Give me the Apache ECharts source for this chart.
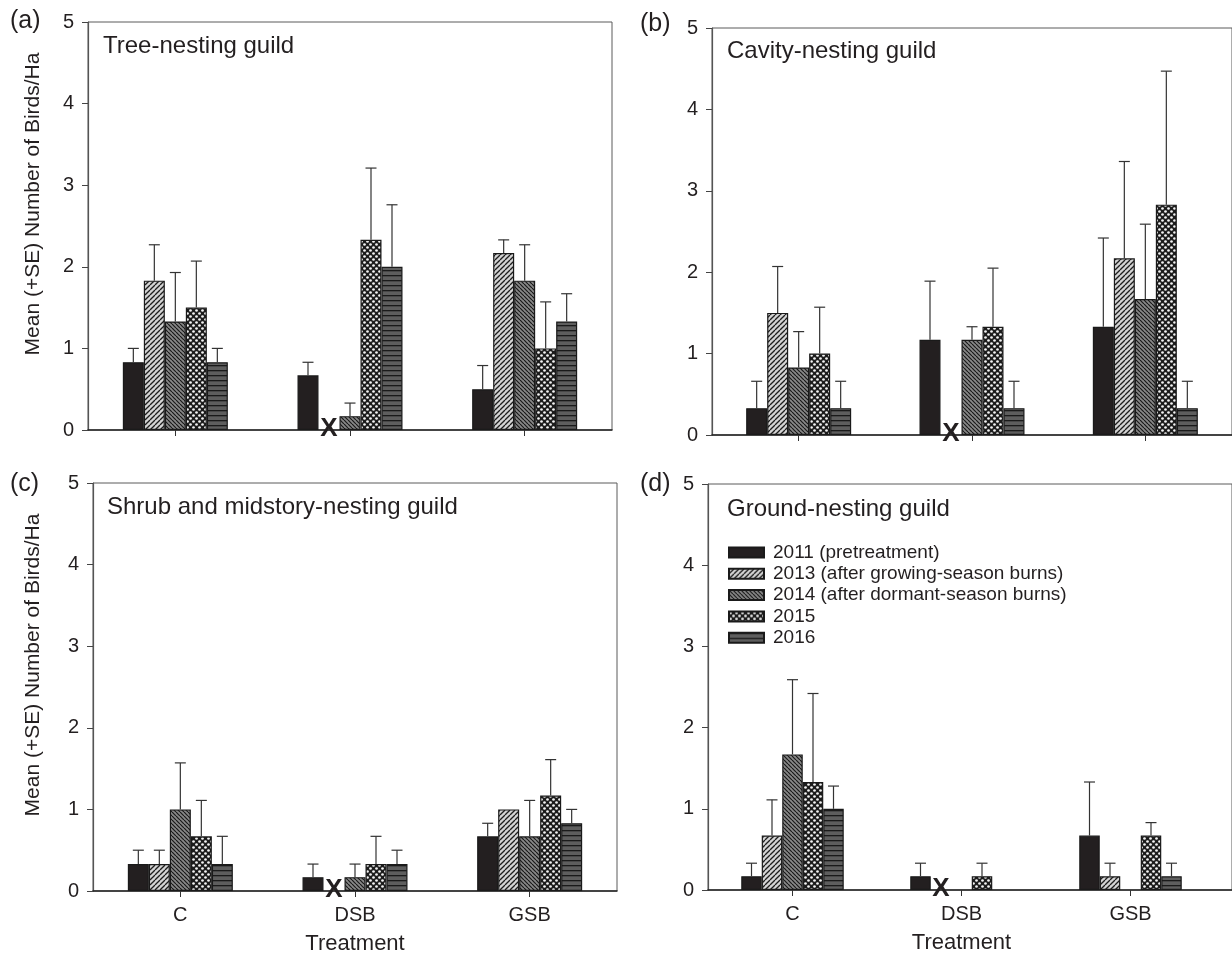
<!DOCTYPE html>
<html><head><meta charset="utf-8">
<script src="https://cdn.jsdelivr.net/npm/echarts@6/dist/echarts.min.js"></script>
<style>html,body{margin:0;padding:0;background:#fff}#c{width:1232px;height:958px}</style>
</head><body><div id="c"></div>
<script>
// ---------- DATA ----------
const categories = ['C', 'DSB', 'GSB'];
const yearNames = ['2011 (pretreatment)', '2013 (after growing-season burns)', '2014 (after dormant-season burns)', '2015', '2016'];
const yTicks = [0, 1, 2, 3, 4, 5];
const panelLabels = ['(a)', '(b)', '(c)', '(d)'];
const guildNames = ['Tree-nesting guild', 'Cavity-nesting guild', 'Shrub and midstory-nesting guild', 'Ground-nesting guild'];
const yAxisTitle = 'Mean (+SE) Number of Birds/Ha';
const xAxisTitle = 'Treatment';
// rows = years (2011, 2013, 2014, 2015, 2016); columns = C, DSB, GSB; null = not surveyed (X)
const treeMeans   = [[0.83,0.67,0.50],[1.83,null,2.17],[1.33,0.17,1.83],[1.50,2.33,1.00],[0.83,2.00,1.33]];
const treeUpper   = [[1.00,0.83,0.79],[2.27,null,2.33],[1.93,0.33,2.27],[2.07,3.21,1.57],[1.00,2.76,1.67]];
const cavityMeans = [[0.33,1.17,1.33],[1.50,null,2.17],[0.83,1.17,1.67],[1.00,1.33,2.83],[0.33,0.33,0.33]];
const cavityUpper = [[0.66,1.89,2.42],[2.07,null,3.36],[1.27,1.33,2.59],[1.57,2.05,4.47],[0.66,0.66,0.66]];
const shrubMeans  = [[0.33,0.17,0.67],[0.33,null,1.00],[1.00,0.17,0.67],[0.67,0.33,1.17],[0.33,0.33,0.83]];
const shrubUpper  = [[0.50,0.33,0.83],[0.50,null,1.00],[1.57,0.33,1.11],[1.11,0.67,1.61],[0.67,0.50,1.00]];
const groundMeans = [[0.17,0.17,0.67],[0.67,null,0.17],[1.67,0,0],[1.33,0.17,0.67],[1.00,0,0.17]];
const groundUpper = [[0.33,0.33,1.33],[1.11,null,0.33],[2.59,0,0],[2.42,0.33,0.83],[1.28,0,0.33]];

// ---------- STYLE ----------
const FONT = 'Liberation Sans, Arial, Helvetica, sans-serif';
const TXT = '#231f20';
function pat(w, h, draw) {
  const c = document.createElement('canvas'); c.width = w; c.height = h;
  const g = c.getContext('2d'); draw(g, w, h);
  return { image: c, repeat: 'repeat' };
}
const fills = [
  '#231f20',
  pat(5, 5, (g, w, h) => { g.fillStyle = '#d4d4d4'; g.fillRect(0,0,w,h); g.strokeStyle = '#1e1e1e'; g.lineWidth = 1.3;
    for (let o = -w; o <= 2*w; o += w) { g.beginPath(); g.moveTo(o, h); g.lineTo(o + h, 0); g.stroke(); } }),
  pat(4, 4, (g, w, h) => { g.fillStyle = '#888'; g.fillRect(0,0,w,h); g.strokeStyle = '#1a1a1a'; g.lineWidth = 1.2;
    for (let o = -w; o <= 2*w; o += w) { g.beginPath(); g.moveTo(o, 0); g.lineTo(o + h, h); g.stroke(); } }),
  pat(6, 6, (g, w, h) => { g.fillStyle = '#1c1c1c'; g.fillRect(0,0,w,h); g.fillStyle = '#f4f4f4';
    [[1.5,1.5],[4.5,4.5]].forEach(p => { g.beginPath(); g.arc(p[0], p[1], 1.35, 0, Math.PI*2); g.fill(); }); }),
  pat(4, 5, (g, w, h) => { g.fillStyle = '#5e5e5e'; g.fillRect(0,0,w,h); g.fillStyle = '#1a1a1a'; g.fillRect(0,0,w,1.3); })
];

const panels = [
  { means: treeMeans,   upper: treeUpper,   grid: { left: 88,  top: 22,  width: 524, height: 408 }, frameW: null, bw: 21,   xLabels: false, yName: true,
    label: { left: 10, top: 9 },     title: { left: 103, top: 34 } },
  { means: cavityMeans, upper: cavityUpper, grid: { left: 712, top: 28,  width: 523, height: 407 }, frameW: 540,  bw: 21,   xLabels: false, yName: false,
    label: { left: 640, top: 11.5 }, title: { left: 727, top: 39 } },
  { means: shrubMeans,  upper: shrubUpper,  grid: { left: 93,  top: 483, width: 524, height: 408 }, frameW: null, bw: 21,   xLabels: true,  yName: true,
    label: { left: 10, top: 471.5 }, title: { left: 107, top: 495 } },
  { means: groundMeans, upper: groundUpper, grid: { left: 708, top: 484, width: 507, height: 406 }, frameW: 540,  bw: 20.5, xLabels: true,  yName: false,
    label: { left: 640, top: 471.5 }, title: { left: 727, top: 497 } }
];

const grids = [], xAxes = [], yAxes = [], series = [], titles = [], graphics = [];
panels.forEach((p, pi) => {
  const framed = p.frameW === null;
  grids.push(Object.assign({ show: framed, borderColor: '#5a5a5a', borderWidth: 1, containLabel: false }, p.grid));
  const xa = {
    type: 'category', gridIndex: pi, data: categories,
    axisLine: { show: framed, lineStyle: { color: '#222', width: 1.5 } },
    axisTick: { show: true, alignWithLabel: true, length: 6, lineStyle: { color: '#333', width: 1 } },
    axisLabel: { show: p.xLabels, fontSize: 20, color: TXT, fontFamily: FONT, margin: 14 },
    splitLine: { show: false }
  };
  if (p.xLabels) {
    xa.name = xAxisTitle; xa.nameLocation = 'middle'; xa.nameGap = 42;
    xa.nameTextStyle = { fontSize: 22, color: TXT, fontFamily: FONT };
  }
  xAxes.push(xa);
  yAxes.push({
    type: 'value', gridIndex: pi, min: yTicks[0], max: yTicks[yTicks.length - 1], interval: 1,
    axisLine: { show: true, lineStyle: { color: '#555', width: 1.2 } },
    axisTick: { show: true, length: 6, lineStyle: { color: '#444' } },
    axisLabel: { fontSize: 20, color: TXT, fontFamily: FONT, margin: 14 },
    splitLine: { show: false }
  });
  if (p.yName) {
    graphics.push({ type: 'text', x: 33, y: p.grid.top + p.grid.height / 2 - 22, rotation: Math.PI / 2,
      style: { text: yAxisTitle, fontSize: 21, fill: TXT, fontFamily: FONT, align: 'center', verticalAlign: 'middle' } });
  }

  yearNames.forEach((yn, yi) => {
    series.push({
      type: 'bar', name: yn, xAxisIndex: pi, yAxisIndex: pi,
      // zero means draw no outline (nothing visible in the original)
      data: p.means[yi].map(v => v === 0 ? { value: 0, itemStyle: { borderWidth: 0 } } : v),
      barWidth: p.bw, barGap: '0%',
      itemStyle: { color: fills[yi], borderColor: '#1a1a1a', borderWidth: 1.2 },
      emphasis: { disabled: true }, animation: false, z: 2
    });
  });
  // error bars (mean to mean + SE)
  const errData = [];
  yearNames.forEach((yn, yi) => categories.forEach((c, ci) => {
    const m = p.means[yi][ci], u = p.upper[yi][ci];
    if (m !== null && u !== null && u > m) errData.push([ci, m, u, yi]);
  }));
  const bw = p.bw;
  series.push({
    type: 'custom', xAxisIndex: pi, yAxisIndex: pi, data: errData, z: 3, animation: false, silent: true,
    renderItem: (params, api) => {
      const ci = api.value(0), m = api.value(1), u = api.value(2), yi = api.value(3);
      const b = api.coord([ci, m]), t = api.coord([ci, u]);
      const x = b[0] + (yi - 2) * bw;
      return { type: 'group', children: [
        { type: 'line', shape: { x1: x, y1: b[1], x2: x, y2: t[1] }, style: { stroke: '#333', lineWidth: 1.2 } },
        { type: 'line', shape: { x1: x - 5.5, y1: t[1], x2: x + 5.5, y2: t[1] }, style: { stroke: '#333', lineWidth: 1.2 } }
      ] };
    }
  });
  // X markers for not-surveyed combos
  const xData = [];
  yearNames.forEach((yn, yi) => categories.forEach((c, ci) => { if (p.means[yi][ci] === null) xData.push([ci, 0, yi]); }));
  series.push({
    type: 'custom', xAxisIndex: pi, yAxisIndex: pi, data: xData, z: 4, animation: false, silent: true, clip: false,
    renderItem: (params, api) => {
      const ci = api.value(0), yi = api.value(2);
      const b = api.coord([ci, api.value(1)]);
      return { type: 'text', x: b[0] + (yi - 2) * bw, y: b[1] - 1,
        style: { text: 'X', fontSize: 26, fontWeight: 'bold', fontFamily: FONT, fill: TXT, align: 'center', verticalAlign: 'middle' } };
    }
  });

  titles.push({ text: panelLabels[pi], left: p.label.left, top: p.label.top, padding: 0,
    textStyle: { fontSize: 25, fontWeight: 'normal', color: TXT, fontFamily: FONT } });
  titles.push({ text: guildNames[pi], left: p.title.left, top: p.title.top, padding: 0,
    textStyle: { fontSize: 24, fontWeight: 'normal', color: TXT, fontFamily: FONT } });
});

// frames for right-hand panels, which run past the right edge of the page
panels.forEach((p, pi) => {
  if (p.frameW === null) return;
  const gi = grids.length;
  grids.push({ show: true, borderColor: '#5a5a5a', borderWidth: 1, left: p.grid.left, top: p.grid.top, width: p.frameW, height: p.grid.height, z: 0 });
  xAxes.push({ type: 'category', gridIndex: gi, data: [''], axisLine: { show: true, lineStyle: { color: '#222', width: 1.5 } },
    axisTick: { show: false }, axisLabel: { show: false }, splitLine: { show: false } });
  yAxes.push({ type: 'value', gridIndex: gi, min: 0, max: 5, show: false });
});

const chart = echarts.init(document.getElementById('c'), null, { renderer: 'canvas' });
chart.setOption({
  backgroundColor: '#fff',
  animation: false,
  textStyle: { fontFamily: FONT },
  title: titles,
  graphic: graphics,
  grid: grids, xAxis: xAxes, yAxis: yAxes, series: series,
  legend: {
    data: yearNames, orient: 'vertical', left: 728, top: 543, padding: 0,
    itemWidth: 35, itemHeight: 10, itemGap: 2.3, icon: 'rect', selectedMode: false,
    textStyle: { fontSize: 19, color: TXT, fontFamily: FONT, lineHeight: 19, padding: [0, 0, 0, 4] }
  }
});
</script>
</body></html>
